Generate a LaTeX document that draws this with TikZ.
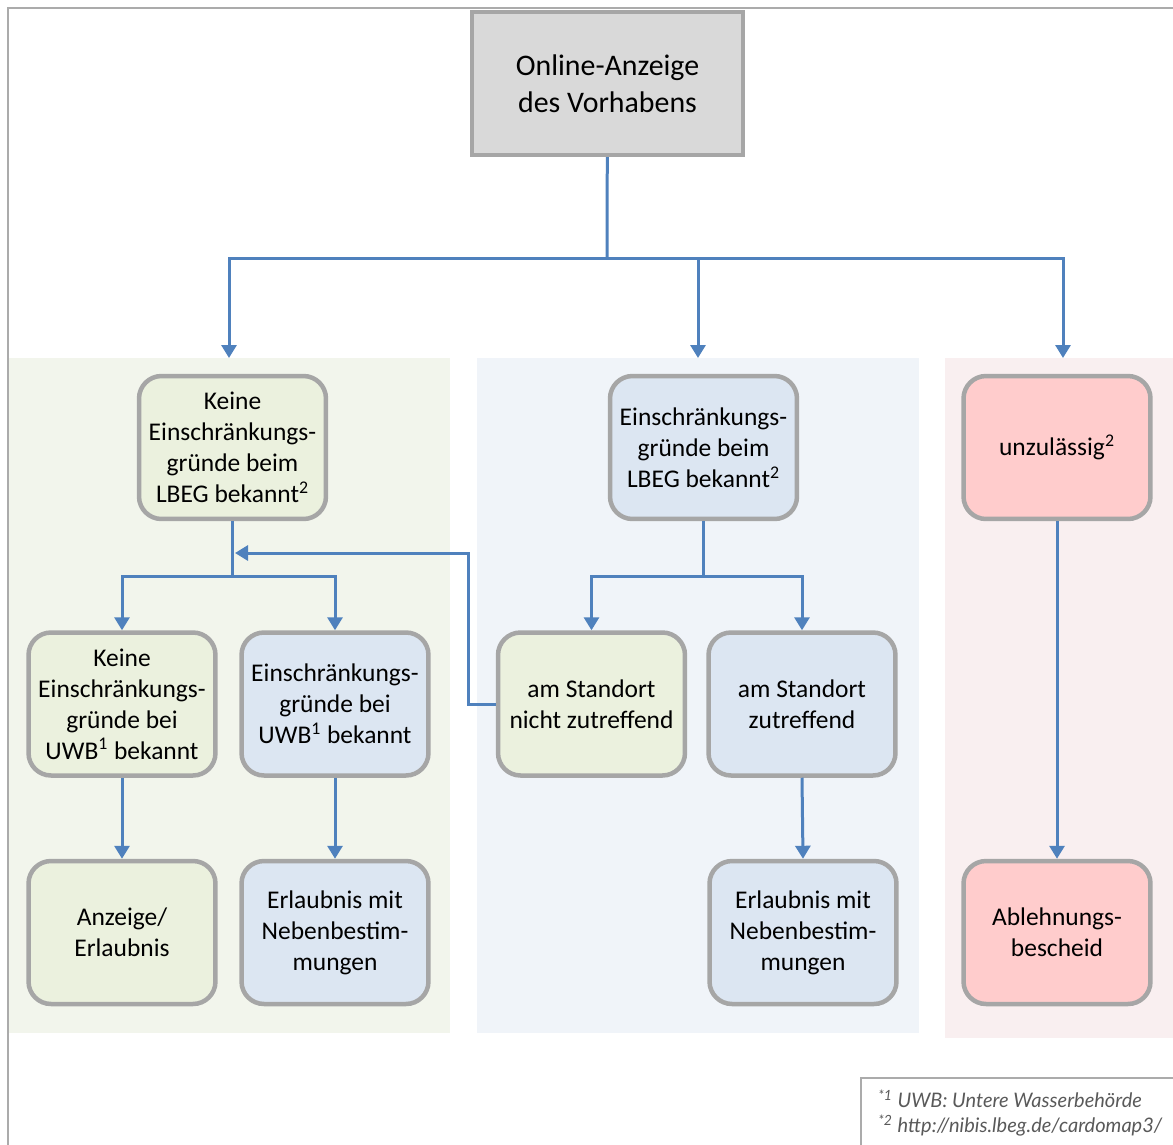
\documentclass[tikz,border=0pt]{standalone}
\usepackage{fontspec}
\setmainfont{Carlito}
\newfontfamily\notefont{Lato}
\usetikzlibrary{arrows.meta}

\definecolor{boxgray}{HTML}{A6A6A6}
\definecolor{framegray}{HTML}{ABABAB}
\definecolor{topfill}{HTML}{D9D9D9}
\definecolor{boxgreen}{HTML}{EBF1DE}
\definecolor{boxblue}{HTML}{DCE6F2}
\definecolor{boxred}{HTML}{FFCCCC}
\definecolor{panelgreen}{HTML}{F2F5EC}
\definecolor{panelblue}{HTML}{F0F4F9}
\definecolor{panelred}{HTML}{F9EFF0}
\definecolor{arrowblue}{HTML}{4F81BD}
\definecolor{notegray}{HTML}{595959}

\begin{document}
\begin{tikzpicture}[x=0.02cm,y=-0.02cm,
	box/.style={draw=boxgray,line width=0.09cm,rounded corners=0.45cm,
		minimum width=3.74cm,minimum height=2.86cm,inner sep=2pt,align=center,
		font=\fontsize{14.5}{17.6}\selectfont},
	greenbox/.style={box,fill=boxgreen},
	bluebox/.style={box,fill=boxblue},
	redbox/.style={box,fill=boxred},
	topbox/.style={draw=boxgray,fill=topfill,line width=0.09cm,
		minimum width=5.42cm,minimum height=2.86cm,align=center,
		font=\fontsize{17}{21}\selectfont},
	line/.style={draw=arrowblue,line width=0.06cm},
	arr/.style={line,-{Triangle[width=0.3cm,length=0.26cm]}},
	note/.style={align=left,text=notegray,inner sep=0pt,
		font=\notefont\itshape\fontsize{11.4}{14.2}\selectfont}
]
	\useasboundingbox (0,0) rectangle (1173,1144);

	% panels and frame
	\fill[panelgreen] (8,358) rectangle (450,1033);
	\fill[panelblue] (477,358) rectangle (919,1033);
	\fill[panelred] (945,358) rectangle (1173,1038);
	\draw[framegray,line width=0.04cm] (8,1150) -- (8,8) -- (1180,8);
	\draw[framegray,line width=0.04cm] (861,1150) -- (861,1078) -- (1180,1078);

	\node[topbox] (start) at (607.5,83.5) {Online-Anzeige\\des Vorhabens};

	\node[greenbox] (keinLBEG) at (232.5,447.5) {Keine\\Einschränkungs-\\gründe beim\\LBEG bekannt\textsuperscript{2}};
	\node[bluebox] (LBEG) at (703.5,447.5) {Einschränkungs-\\gründe beim\\LBEG bekannt\textsuperscript{2}};
	\node[redbox] (unzul) at (1057,447.5) {unzulässig\textsuperscript{2}};

	\node[greenbox] (keinUWB) at (122,704) {Keine\\Einschränkungs-\\gründe bei\\UWB\textsuperscript{1} bekannt};
	\node[bluebox] (UWB) at (335,704) {Einschränkungs-\\gründe bei\\UWB\textsuperscript{1} bekannt};
	\node[greenbox] (nicht) at (591.5,704) {am Standort\\nicht zutreffend};
	\node[bluebox] (zutr) at (802,704) {am Standort\\zutreffend};

	\node[greenbox] (anzeige) at (122,932.5) {Anzeige/\\Erlaubnis};
	\node[bluebox] (nebenUWB) at (335,932.5) {Erlaubnis mit\\Nebenbestim-\\mungen};
	\node[bluebox] (nebenLBEG) at (803,932.5) {Erlaubnis mit\\Nebenbestim-\\mungen};
	\node[redbox] (ablehn) at (1057,932.5) {Ablehnungs-\\bescheid};

	\node[note,anchor=north west] (fn) at (878,1090)
		{\textsuperscript{*1} UWB: Untere Wasserbehörde\\\textsuperscript{*2} http://nibis.lbeg.de/cardomap3/};

	% connectors
	\coordinate (split) at (607,258);
	\coordinate (inA) at (229,358);
	\coordinate (inB) at (698,358);
	\coordinate (inC) at (1063,358);
	\path[line] (start) -- (split);
	\path[arr] (split) -| (inA);
	\path[arr] (split) -| (inB);
	\path[arr] (split) -| (inC);

	\coordinate (splitA) at (232.5,576);
	\path[line] (keinLBEG) -- (splitA);
	\path[arr] (splitA) -| (keinUWB);
	\path[arr] (splitA) -| (UWB);

	\coordinate (splitB) at (703.5,576);
	\path[line] (LBEG) -- (splitB);
	\path[arr] (splitB) -| (nicht);
	\path[arr] (splitB) -| (zutr);

	\coordinate (turn) at (468,553);
	\coordinate (back) at (235,553);
	\path[arr] (nicht.west) -| (turn) -- (back);

	\path[arr] (keinUWB) -- (anzeige);
	\path[arr] (UWB) -- (nebenUWB);
	\path[arr] (zutr.south) -- (nebenLBEG.north);
	\path[arr] (unzul) -- (ablehn);
\end{tikzpicture}
\end{document}
